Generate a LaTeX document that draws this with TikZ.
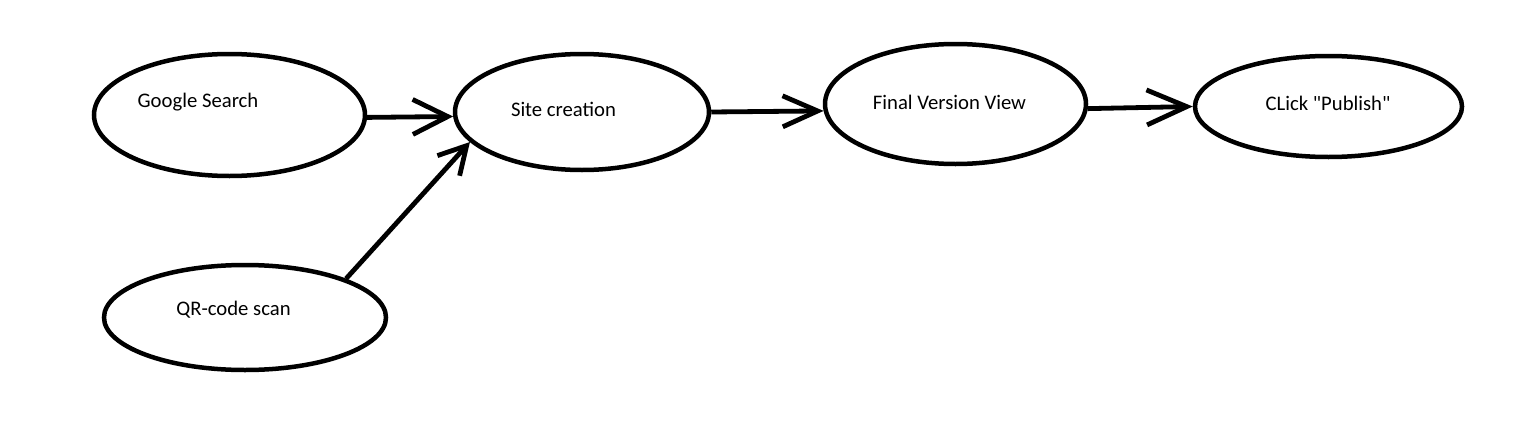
\documentclass[tikz,border=0pt]{standalone}
\usepackage{fontspec}
\setmainfont{Carlito}[Ligatures=TeXOff]
\usetikzlibrary{shapes.geometric,arrows.meta}
\begin{document}
\begin{tikzpicture}[x=1pt,y=-1pt,
  oval/.style={ellipse,draw,line width=4.5pt,inner sep=0pt},
  lbl/.style={inner sep=0pt,text height=13.3pt,text depth=0pt,font=\fontsize{20.7}{24}\selectfont},
  flow/.style={line width=4.8pt},
  barb/.style 2 args={-{Straight Barb[length=#1pt,width=#2pt]}}]
\useasboundingbox[fill=white] (0,0) rectangle (1535,439);

\node[oval,minimum width=271pt,minimum height=122pt,
  label={[lbl,shift={(-31.5,-14.65)}]center:Google Search}] (g) at (229.5,115) {};
\node[oval,minimum width=282pt,minimum height=105pt,
  label={[lbl,shift={(-11.5,-9.15)}]center:QR-code scan}] (q) at (245,317.5) {};
\node[oval,minimum width=254pt,minimum height=116pt,
  label={[lbl,shift={(-18.5,-2.65)}]center:Site creation}] (s) at (582,112) {};
\node[oval,minimum width=261pt,minimum height=120pt,
  label={[lbl,shift={(-6,-1.65)}]center:Final Version View}] (f) at (955.5,104) {};
\node[oval,minimum width=267pt,minimum height=101pt,
  label={[lbl,shift={(-0.5,-3.15)}]center:CLick "Publish"}] (p) at (1328.5,106.5) {};

\draw[flow,barb={35}{35}] (g.359) -- (s.182);
\draw[flow,barb={27}{30}] (q.21) -- (s.195);
\draw[flow,barb={35}{31}] (s.0) -- (f.183);
\draw[flow,barb={40}{35}] (f.358) -- (p.180);
\end{tikzpicture}
\end{document}
